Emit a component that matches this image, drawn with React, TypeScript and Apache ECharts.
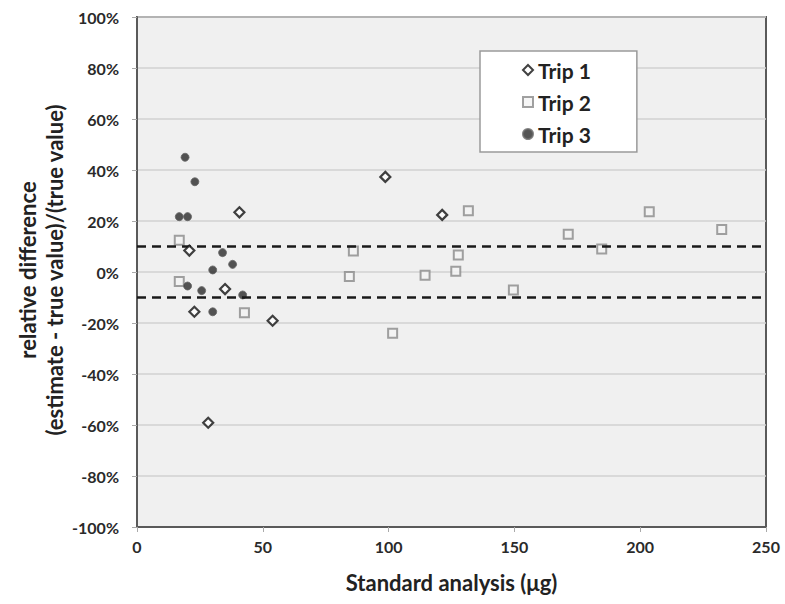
import React, { useEffect, useRef } from "react";
import * as echarts from "echarts";

const trip1: [number, number][] = [
  [20.8, 8.4], [22.8, -15.6], [28.3, -59.1], [35.0, -6.7], [40.7, 23.4],
  [53.9, -19.1], [98.7, 37.3], [121.3, 22.4],
];
const trip2: [number, number][] = [
  [16.8, 12.5], [16.8, -3.7], [42.7, -16.0], [84.4, -1.8], [86.0, 8.2],
  [101.6, -24.0], [114.5, -1.3], [126.7, 0.3], [127.7, 6.7], [131.7, 24.0],
  [149.6, -7.1], [171.4, 14.8], [184.7, 9.0], [203.6, 23.6], [232.4, 16.7],
];
const trip3: [number, number][] = [
  [16.8, 21.7], [19.1, 45.0], [20.1, 21.7], [20.1, -5.5], [23.0, 35.4],
  [25.7, -7.3], [30.1, 0.8], [30.1, -15.6], [34.0, 7.6], [38.0, 3.0], [42.0, -9.0],
];
const limitLines = [10, -10];
const seriesNames = ["Trip 1", "Trip 2", "Trip 3"];

const FONT = "Lato";

export default function App() {
  const ref = useRef<HTMLDivElement>(null);
  useEffect(() => {
    if (!ref.current) return;
    const chart = echarts.init(ref.current, null, { renderer: "svg" });
    chart.setOption({
      animation: false,
      backgroundColor: "#ffffff",
      textStyle: { fontFamily: FONT },
      grid: {
        left: 137, right: 19, top: 17, bottom: 77,
        show: true, backgroundColor: "#f0f0f0", borderColor: "#5a5a5a", borderWidth: 2,
      },
      xAxis: {
        type: "value", min: 0, max: 250, interval: 50,
        name: "Standard analysis (μg)", nameLocation: "middle", nameGap: 44,
        nameTextStyle: { fontFamily: FONT, fontWeight: "bold", fontSize: 22, color: "#222" },
        axisLine: { show: true, onZero: false, lineStyle: { color: "#5a5a5a", width: 2 } },
        axisTick: { show: true, length: 5, lineStyle: { color: "#aaa" } },
        axisLabel: { fontFamily: FONT, fontWeight: "bold", fontSize: 16, color: "#2a2a2a", margin: 11 },
        splitLine: { show: false },
      },
      yAxis: {
        type: "value", min: -100, max: 100, interval: 20,
        axisLine: { show: true, onZero: false, lineStyle: { color: "#5a5a5a", width: 2 } },
        axisTick: { show: true, length: 5, lineStyle: { color: "#aaa" } },
        axisLabel: {
          fontFamily: FONT, fontWeight: "bold", fontSize: 16, color: "#2a2a2a", margin: 18,
          formatter: (v: number) => `${v}%`,
        },
        splitLine: { show: true, lineStyle: { color: "#d2d2d2", width: 1.5 } },
      },
      legend: {
        orient: "vertical", left: 480, top: 51,
        data: seriesNames,
        backgroundColor: "#ffffff", borderColor: "#9a9a9a", borderWidth: 1.5,
        padding: [8, 46, 7, 42],
        itemWidth: 10, itemHeight: 10, itemGap: 10,
        textStyle: { fontFamily: FONT, fontWeight: "bold", fontSize: 21, color: "#222", lineHeight: 22 },
      },
      graphic: [
        {
          type: "text", x: 41, y: 270, rotation: Math.PI / 2,
          style: {
            text: "relative difference\n(estimate - true value)/(true value)",
            fontFamily: FONT, fontWeight: "bold", fontSize: 22, fill: "#222",
            align: "center", verticalAlign: "middle", lineHeight: 27,
          },
        },
      ],
      series: [
        {
          name: seriesNames[0], type: "scatter", data: trip1,
          symbol: "diamond", symbolSize: 10,
          itemStyle: { color: "#ffffff", borderColor: "#111", borderWidth: 2.2 },
          z: 5,
          markLine: {
            silent: true, symbol: "none", label: { show: false },
            lineStyle: { color: "#1a1a1a", type: [9, 6], width: 2.5 },
            data: limitLines.map((v) => ({ yAxis: v })),
          },
        },
        {
          name: seriesNames[1], type: "scatter", data: trip2,
          symbol: "rect", symbolSize: 9,
          itemStyle: { color: "#f4f4f4", borderColor: "#8a8a8a", borderWidth: 2 },
          z: 4,
        },
        {
          name: seriesNames[2], type: "scatter", data: trip3,
          symbol: "circle", symbolSize: 8,
          itemStyle: { color: "#2a2a2a", borderColor: "#666", borderWidth: 1 },
          z: 4,
        },
      ],
    });
    return () => chart.dispose();
  }, []);
  return (
    <div
      ref={ref}
      style={{ position: "fixed", left: 0, top: 0, width: 785, height: 604 }}
    />
  );
}
